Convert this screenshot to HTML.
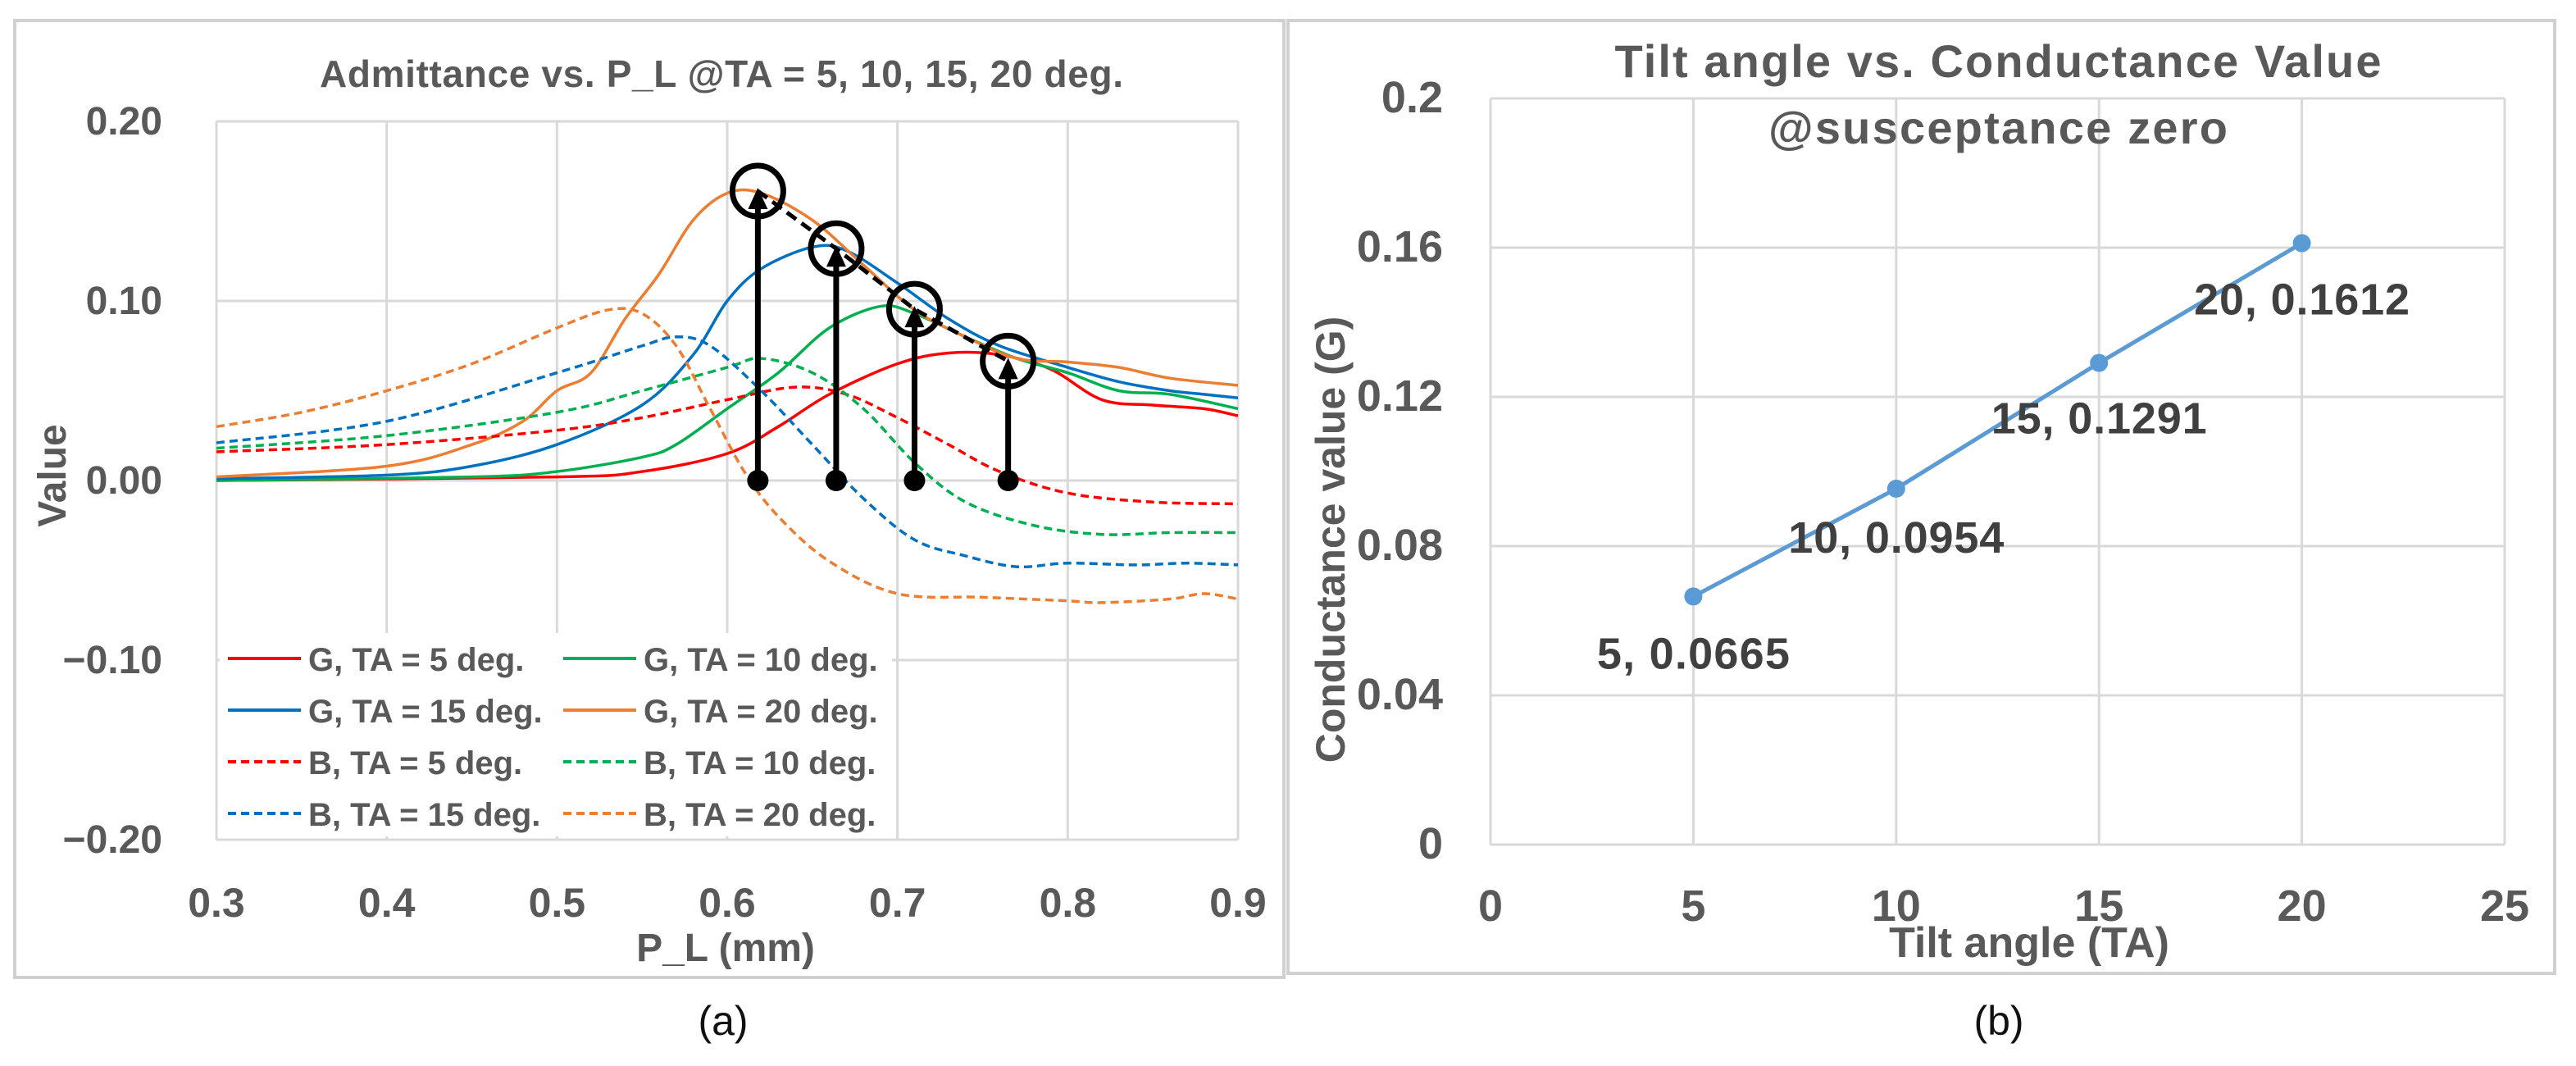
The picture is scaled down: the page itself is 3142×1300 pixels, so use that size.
<!DOCTYPE html>
<html><head><meta charset="utf-8"><style>
html,body{margin:0;padding:0;background:#fff;}
svg{display:block;font-family:"Liberation Sans",sans-serif;}
</style></head><body>
<svg id="c" width="3142" height="1300" viewBox="0 0 3142 1300" xmlns="http://www.w3.org/2000/svg">
<rect x="0" y="0" width="3142" height="1300" fill="#fff"/>
<rect x="18" y="25" width="1548" height="1167" fill="#fff" stroke="#d0d0d0" stroke-width="4"/>
<rect x="1571" y="25" width="1545" height="1162" fill="#fff" stroke="#d0d0d0" stroke-width="4"/>
<g id="A"></g>
<g id="B"></g>
<text x="882" y="1262" font-size="50" text-anchor="middle" fill="#111">(a)</text>
<text x="2438" y="1262" font-size="50" text-anchor="middle" fill="#111">(b)</text>
</svg>
<script>
// ---- Panel A data ----
const aXTicks = [0.3,0.4,0.5,0.6,0.7,0.8,0.9];
const aYTicks = [0.2,0.1,0,-0.1,-0.2];
const aYTickLabels = ["0.20","0.10","0.00","\u22120.10","\u22120.20"];
const g5x = [0.3,0.5,0.55,0.6,0.63,0.66,0.7,0.73,0.76,0.79,0.82,0.85,0.88,0.9];
const g5y = [0,0.002,0.005,0.015,0.03,0.048,0.065,0.071,0.07,0.062,0.045,0.042,0.04,0.036];
const g10x = [0.3,0.45,0.5,0.55,0.57,0.6,0.63,0.66,0.69,0.71,0.74,0.77,0.8,0.83,0.86,0.9];
const g10y = [0,0.002,0.005,0.013,0.02,0.04,0.06,0.085,0.097,0.093,0.08,0.068,0.06,0.05,0.048,0.04];
const g15x = [0.3,0.4,0.45,0.5,0.55,0.58,0.6,0.62,0.65,0.67,0.7,0.73,0.76,0.8,0.83,0.86,0.88,0.9];
const g15y = [0.001,0.003,0.008,0.02,0.042,0.07,0.1,0.118,0.13,0.128,0.11,0.09,0.075,0.063,0.055,0.05,0.048,0.046];
const g20x = [0.3,0.4,0.45,0.48,0.5,0.52,0.54,0.56,0.58,0.6,0.62,0.65,0.68,0.71,0.74,0.77,0.8,0.83,0.86,0.9];
const g20y = [0.002,0.008,0.02,0.033,0.05,0.06,0.09,0.115,0.145,0.16,0.16,0.145,0.12,0.095,0.08,0.068,0.066,0.063,0.057,0.053];
const b5x = [0.3,0.4,0.5,0.55,0.6,0.64,0.67,0.7,0.73,0.76,0.8,0.85,0.9];
const b5y = [0.016,0.02,0.028,0.035,0.045,0.052,0.048,0.035,0.02,0.005,-0.007,-0.012,-0.013];
const b10x = [0.3,0.4,0.5,0.55,0.6,0.62,0.65,0.68,0.71,0.74,0.78,0.82,0.86,0.9];
const b10y = [0.018,0.025,0.038,0.05,0.063,0.068,0.06,0.04,0.01,-0.012,-0.025,-0.03,-0.029,-0.029];
const b15x = [0.3,0.4,0.5,0.55,0.57,0.59,0.62,0.65,0.68,0.71,0.74,0.77,0.8,0.84,0.87,0.9];
const b15y = [0.021,0.033,0.06,0.075,0.08,0.075,0.05,0.02,-0.01,-0.033,-0.042,-0.048,-0.046,-0.047,-0.046,-0.047];
const b20x = [0.3,0.35,0.4,0.45,0.5,0.53,0.55,0.57,0.59,0.61,0.63,0.66,0.7,0.75,0.8,0.82,0.86,0.88,0.9];
const b20y = [0.03,0.038,0.05,0.065,0.085,0.095,0.093,0.075,0.04,0.005,-0.02,-0.045,-0.063,-0.065,-0.067,-0.068,-0.066,-0.063,-0.066];
const markX = [0.618,0.664,0.71,0.765];
const markY = [0.1612,0.1291,0.0954,0.0665];
// ---- Panel B data ----
const tiltAngles = [5,10,15,20];
const conductance = [0.0665,0.0954,0.1291,0.1612];
const pointLabels = ["5, 0.0665","10, 0.0954","15, 0.1291","20, 0.1612"];
const bXTicks = [0,5,10,15,20,25];
const bYTicks = [0,0.04,0.08,0.12,0.16,0.2];
const bYTickLabels = ["0","0.04","0.08","0.12","0.16","0.2"];

const NS="http://www.w3.org/2000/svg";
function mk(parent,tag,attrs,text){const e=document.createElementNS(NS,tag);for(const k in attrs)e.setAttribute(k,attrs[k]);if(text!==undefined)e.textContent=text;parent.appendChild(e);return e;}
const GRAY="#595959", GRID="#d9d9d9";
const A=document.getElementById('A'), B=document.getElementById('B');

const ax=v=>264+(v-0.3)/0.6*1246;
const ay=v=>586-v/0.2*438;
function smooth(xs,ys,fx,fy){const p=xs.map((x,i)=>[fx(x),fy(ys[i])]);let d=`M${p[0][0]},${p[0][1]}`;for(let i=0;i<p.length-1;i++){const p0=p[i-1]||p[i],p1=p[i],p2=p[i+1],p3=p[i+2]||p2;const c1=[p1[0]+(p2[0]-p0[0])/6,p1[1]+(p2[1]-p0[1])/6],c2=[p2[0]-(p3[0]-p1[0])/6,p2[1]-(p3[1]-p1[1])/6];d+=`C${c1[0]},${c1[1]} ${c2[0]},${c2[1]} ${p2[0]},${p2[1]}`;}return d;}

aXTicks.forEach(v=>{
  const l=mk(A,'line',{x1:ax(v),x2:ax(v),y1:ay(0.2),y2:ay(-0.2),stroke:GRID,'stroke-width':3});
  
  
  const t=mk(A,'text',{x:ax(v),y:1118,'font-size':50,'font-weight':'bold','text-anchor':'middle',fill:GRAY},String(v));
  
  
});
aYTicks.forEach((v,i)=>{
  const l=mk(A,'line',{x1:ax(0.3),x2:ax(0.9),y1:ay(v),y2:ay(v),stroke:GRID,'stroke-width':3});
  
  
  const t=mk(A,'text',{x:198,y:ay(v)+16,'font-size':48,'font-weight':'bold','text-anchor':'end',fill:GRAY},aYTickLabels[i]);
  
  
});
let t=mk(A,'text',{x:880,y:106,'font-size':46,'font-weight':'bold','text-anchor':'middle',fill:GRAY,textLength:980},"Admittance vs. P_L @TA = 5, 10, 15, 20 deg.");


t=mk(A,'text',{x:885,y:1172,'font-size':48,'font-weight':'bold','text-anchor':'middle',fill:GRAY},"P_L (mm)");


t=mk(A,'text',{x:0,y:0,'font-size':48,'font-weight':'bold','text-anchor':'middle',fill:GRAY,transform:'translate(80,580) rotate(-90)'},"Value");



const series=[
 [g5x,g5y,'#ff0000',false,'G, TA = 5 deg.'],[g10x,g10y,'#00b050',false,'G, TA = 10 deg.'],
 [g15x,g15y,'#0070c0',false,'G, TA = 15 deg.'],[g20x,g20y,'#ed7d31',false,'G, TA = 20 deg.'],
 [b5x,b5y,'#ff0000',true,'B, TA = 5 deg.'],[b10x,b10y,'#00b050',true,'B, TA = 10 deg.'],
 [b15x,b15y,'#0070c0',true,'B, TA = 15 deg.'],[b20x,b20y,'#ed7d31',true,'B, TA = 20 deg.']];
series.forEach(s=>{
  const p=mk(A,'path',{d:smooth(s[0],s[1],ax,ay),fill:'none',stroke:s[2],'stroke-width':3.5,'stroke-dasharray':s[3]?'10 6':'none'});
  
  
});
const dl=mk(A,'polyline',{points:markX.map((x,i)=>ax(x)+','+ay(markY[i])).join(' '),fill:'none',stroke:'#000','stroke-width':5,'stroke-dasharray':'14 8'});


markX.forEach((x,i)=>{
  const l=mk(A,'line',{x1:ax(x),x2:ax(x),y1:ay(0),y2:ay(markY[i])+14,stroke:'#000','stroke-width':7});
  
  
  const h=mk(A,'polygon',{points:`${ax(x)-12},${ay(markY[i])+22} ${ax(x)+12},${ay(markY[i])+22} ${ax(x)},${ay(markY[i])-4}`,fill:'#000'});
  
  
  const d=mk(A,'circle',{cx:ax(x),cy:ay(0),r:13,fill:'#000'});
  
  
  const c=mk(A,'circle',{cx:ax(x),cy:ay(markY[i]),r:31,fill:'none',stroke:'#000','stroke-width':7});
  
  
});
const lg=mk(A,'rect',{x:268,y:772,width:820,height:248,fill:'#fff'});


series.forEach((s,i)=>{
  const col=i%2,row=Math.floor(i/2);
  const x0=col?687:278,y0=803+row*63;
  const l=mk(A,'line',{x1:x0,x2:x0+89,y1:y0,y2:y0,stroke:s[2],'stroke-width':4,'stroke-dasharray':s[3]?'10 6':'none'});
  
  
  const tt=mk(A,'text',{x:x0+98,y:y0+15,'font-size':40,'font-weight':'bold',fill:GRAY},s[4]);
  
  
});

// Panel B
const bx=v=>1818+v/25*1237;
const by=v=>1030-v/0.2*910;
bXTicks.forEach(v=>{
  const l=mk(B,'line',{x1:bx(v),x2:bx(v),y1:by(0.2),y2:by(0),stroke:GRID,'stroke-width':3});
  
  
  const tt=mk(B,'text',{x:bx(v),y:1123,'font-size':54,'font-weight':'bold','text-anchor':'middle',fill:GRAY},String(v));
  
  
});
bYTicks.forEach((v,i)=>{
  const l=mk(B,'line',{x1:bx(0),x2:bx(25),y1:by(v),y2:by(v),stroke:GRID,'stroke-width':3});
  
  
  const tt=mk(B,'text',{x:1760,y:by(v)+17,'font-size':54,'font-weight':'bold','text-anchor':'end',fill:GRAY},bYTickLabels[i]);
  
  
});
t=mk(B,'text',{x:2437,y:94,'font-size':56,'font-weight':'bold','text-anchor':'middle',fill:GRAY,textLength:935},"Tilt angle vs. Conductance Value");


t=mk(B,'text',{x:2437,y:175,'font-size':56,'font-weight':'bold','text-anchor':'middle',fill:GRAY,textLength:560},"@susceptance zero");


t=mk(B,'text',{x:2475,y:1167,'font-size':52,'font-weight':'bold','text-anchor':'middle',fill:GRAY},"Tilt angle (TA)");


t=mk(B,'text',{x:0,y:0,'font-size':50,'font-weight':'bold','text-anchor':'middle',fill:GRAY,transform:'translate(1640,658) rotate(-90)'},"Conductance value (G)");


const pl=mk(B,'polyline',{points:tiltAngles.map((v,i)=>bx(v)+','+by(conductance[i])).join(' '),fill:'none',stroke:'#5b9bd5','stroke-width':5});


const lblDy=[88,78,86,87];
tiltAngles.forEach((v,i)=>{
  const c=mk(B,'circle',{cx:bx(v),cy:by(conductance[i]),r:11,fill:'#5b9bd5'});
  
  
  const tt=mk(B,'text',{x:bx(v),y:by(conductance[i])+lblDy[i],'font-size':54,'font-weight':'bold','text-anchor':'middle',fill:'#404040',textLength:i==0?235:263},pointLabels[i]);
  
  
});
</script>
</body></html>
